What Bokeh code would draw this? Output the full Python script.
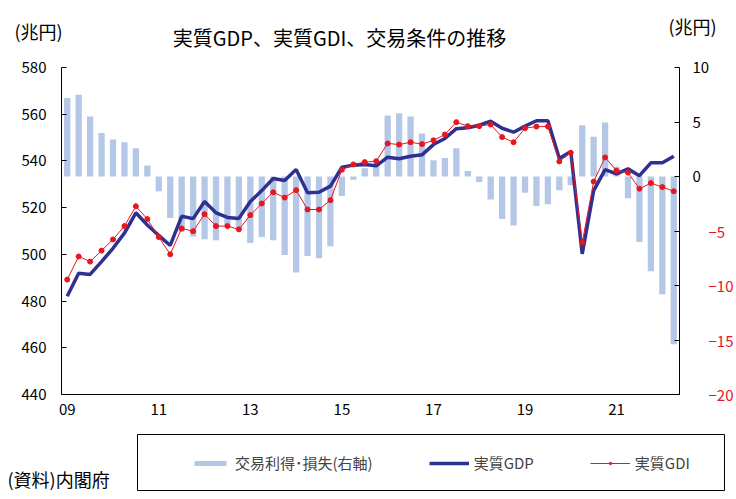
from bokeh.plotting import figure
from bokeh.layouts import column
from bokeh.models import (Range1d, LinearAxis, FixedTicker, Legend, LegendItem,
                          ColumnDataSource)
from bokeh.core.properties import value
from bokeh.embed import file_html
from bokeh.resources import INLINE

# Quarterly series, 2009Q1 - 2022Q2 (trillion yen)
quarters = [
    "2009Q1", "2009Q2", "2009Q3", "2009Q4", "2010Q1", "2010Q2", "2010Q3", "2010Q4",
    "2011Q1", "2011Q2", "2011Q3", "2011Q4", "2012Q1", "2012Q2", "2012Q3", "2012Q4",
    "2013Q1", "2013Q2", "2013Q3", "2013Q4", "2014Q1", "2014Q2", "2014Q3", "2014Q4",
    "2015Q1", "2015Q2", "2015Q3", "2015Q4", "2016Q1", "2016Q2", "2016Q3", "2016Q4",
    "2017Q1", "2017Q2", "2017Q3", "2017Q4", "2018Q1", "2018Q2", "2018Q3", "2018Q4",
    "2019Q1", "2019Q2", "2019Q3", "2019Q4", "2020Q1", "2020Q2", "2020Q3", "2020Q4",
    "2021Q1", "2021Q2", "2021Q3", "2021Q4", "2022Q1", "2022Q2",
]

real_gdp = [
    482.1, 491.9, 491.4, 496.9, 502.6, 509.1, 517.8, 512.6,
    508.1, 503.8, 516.3, 515.3, 522.6, 517.8, 515.8, 515.4,
    522.6, 527.3, 532.5, 531.6, 536.3, 526.4, 526.6, 529.2,
    537.3, 538.2, 538.5, 537.9, 541.6, 540.9, 542.0, 542.6,
    547.0, 549.6, 553.8, 554.2, 555.3, 557.0, 554.0, 552.3,
    554.9, 557.2, 557.2, 541.0, 544.0, 500.2, 527.3, 536.3,
    534.5, 536.6, 533.7, 539.2, 539.2, 542.0,
]

real_gdi = [
    489.2, 499.1, 496.9, 501.6, 506.4, 512.1, 520.6, 515.1,
    507.4, 500.0, 511.1, 509.9, 517.2, 512.1, 512.1, 510.7,
    516.8, 521.8, 526.6, 524.3, 527.5, 519.2, 519.2, 523.2,
    536.2, 538.5, 539.5, 539.9, 547.5, 547.0, 548.0, 547.2,
    548.8, 551.3, 556.6, 554.9, 554.9, 555.6, 550.2, 548.0,
    554.0, 554.7, 554.7, 539.8, 543.5, 505.1, 531.2, 541.5,
    535.8, 535.0, 528.1, 530.5, 528.8, 527.0,
]

trading_gain = [
    7.2, 7.5, 5.5, 4.0, 3.4, 3.15, 2.6, 1.0,
    -1.35, -3.8, -5.1, -5.5, -5.75, -5.85, -4.5, -4.8,
    -6.1, -5.55, -5.85, -7.2, -8.8, -7.3, -7.5, -6.4,
    -1.8, -0.3, 0.75, 1.0, 5.6, 5.8, 5.5, 3.95,
    1.5, 1.7, 2.6, 0.5, -0.5, -2.1, -3.9, -4.5,
    -1.5, -2.7, -2.55, -1.25, -0.8, 4.7, 3.65, 4.95,
    0.9, -2.0, -6.0, -8.7, -10.8, -15.4,
]

year_labels = ["09", "11", "13", "15", "17", "19", "21"]
left_ticks = [440, 460, 480, 500, 520, 540, 560, 580]
right_ticks = [-20, -15, -10, -5, 0, 5, 10]

TITLE = "実質GDP、実質GDI、交易条件の推移"
UNIT = "(兆円)"
SOURCE = "(資料)内閣府"
NAMES = ["交易利得･損失(右軸)", "実質GDP", "実質GDI"]

FONT = "Noto Sans CJK JP"
BAR = "#b4c7e7"
BLUE = "#2e3192"
RED = "#e8161e"
W = 736
NAN = float("nan")
FIGSP = "\u2007"   # digit-wide space, keeps the red labels equally wide


def blank_figure(h):
    # a frame covering the whole canvas, with y measured downward in pixels
    f = figure(width=W, height=h, output_backend="svg", toolbar_location=None,
               x_range=Range1d(0, W), y_range=Range1d(h, 0),
               x_axis_type=None, y_axis_type=None, min_border=0,
               frame_align=False)
    f.xgrid.visible = False
    f.ygrid.visible = False
    f.outline_line_color = None
    f.border_fill_color = "white"
    return f


# ---- header: title and unit captions
head = blank_figure(56)
head.text(x=[339], y=[37], text=[TITLE], text_font=value(FONT),
          text_font_size="20px", text_align="center", text_baseline="middle",
          text_color="black")
head.text(x=[14, 668], y=[30.5, 25.5], text=[UNIT, UNIT], text_font=value(FONT),
          text_font_size="18px", text_align="left", text_baseline="middle",
          text_color="black")

# ---- main chart
x = list(range(len(quarters)))
src = ColumnDataSource(dict(x=x, gdp=real_gdp, gdi=real_gdi, tot=trading_gain))

p = figure(width=W, height=374, output_backend="svg", toolbar_location=None,
           x_range=Range1d(-0.5, len(quarters) - 0.5), y_range=Range1d(440, 580),
           min_border_left=61, min_border_right=56, min_border_top=11,
           min_border_bottom=36, frame_align=False)
p.extra_y_ranges = {"tot": Range1d(-20, 10)}
p.xgrid.visible = False
p.ygrid.visible = False
p.outline_line_color = None
p.border_fill_color = "white"

p.vbar(x="x", top="tot", bottom=0, width=0.55, y_range_name="tot",
       fill_color=BAR, line_color=None, source=src)
p.line("x", "gdp", line_width=3.5, color=BLUE, source=src)
p.line("x", "gdi", line_width=1, color=RED, source=src)
p.scatter("x", "gdi", size=5, color=RED, source=src)

# bottom axis: year labels at the first quarter of every other year
xticks = [quarters.index("20" + y + "Q1") for y in year_labels]
xa = p.xaxis[0]
xa.ticker = FixedTicker(ticks=xticks)
xa.major_label_overrides = {t: lab for t, lab in zip(xticks, year_labels)}
xa.major_tick_in = 0
xa.major_tick_out = 0
xa.major_label_standoff = 9

ya = p.yaxis[0]
ya.ticker = FixedTicker(ticks=left_ticks)
ya.major_tick_in = 5
ya.major_tick_out = 0
ya.major_label_standoff = 15

# right axis: line, ticks and the non-negative labels in black
ra = LinearAxis(y_range_name="tot", ticker=FixedTicker(ticks=right_ticks))
ra.major_label_overrides = {t: "" for t in right_ticks if t < 0}
ra.major_tick_in = 5
ra.major_tick_out = 0
ra.major_label_standoff = 13
p.add_layout(ra, "right")


def red_label(t):
    if t >= 0:
        return ""
    s = "\u2212" + str(-t)
    return s + FIGSP * (3 - len(s))


# second right axis carrying only the negative labels, drawn in red and
# pulled back onto the first one
rn = LinearAxis(y_range_name="tot", ticker=FixedTicker(ticks=right_ticks))
rn.major_label_overrides = {t: red_label(t) for t in right_ticks}
rn.axis_line_color = None
rn.major_tick_line_color = None
rn.major_tick_in = 0
rn.major_tick_out = 0
rn.major_label_standoff = -4
rn.major_label_text_align = "left"
p.add_layout(rn, "right")

for ax in (xa, ya, ra, rn):
    ax.minor_tick_line_color = None
    ax.major_label_text_font = FONT
    ax.major_label_text_font_size = "15px"
    ax.major_label_text_color = "black"
for ax in (xa, ya, ra):
    ax.axis_line_color = "black"
    ax.major_tick_line_color = "black"
rn.major_label_text_color = RED

# ---- footer: legend box and source note
foot = blank_figure(69)
foot.quad(left=[137], right=[724], top=[4], bottom=[60], fill_color=None,
          line_color="black", line_width=1)
foot.text(x=[7], y=[48], text=[SOURCE], text_font=value(FONT),
          text_font_size="18px", text_align="left", text_baseline="middle",
          text_color="black")

# legend keys styled like the chart's renderers (nothing of their own is drawn)
key_bar = foot.vbar(x=[NAN], top=[NAN], width=1, fill_color=BAR, line_color=None)
key_gdp = foot.line(x=[NAN], y=[NAN], line_width=3.5, color=BLUE)
key_gdi = foot.line(x=[NAN], y=[NAN], line_width=1, color=RED)
key_pts = foot.scatter(x=[NAN], y=[NAN], size=5, color=RED)

legend = Legend(items=[
    LegendItem(label=NAMES[0], renderers=[key_bar]),
    LegendItem(label=NAMES[1], renderers=[key_gdp]),
    LegendItem(label=NAMES[2], renderers=[key_gdi, key_pts]),
], orientation="horizontal", location=(190, 26),
    border_line_color=None, background_fill_alpha=0, padding=0, margin=0,
    spacing=56, glyph_width=40, glyph_height=6, label_height=20,
    label_standoff=5, label_text_font=FONT, label_text_font_size="15px")
foot.add_layout(legend)

page = column(head, p, foot, spacing=0)
open("out.html", "w").write(file_html(page, INLINE))
